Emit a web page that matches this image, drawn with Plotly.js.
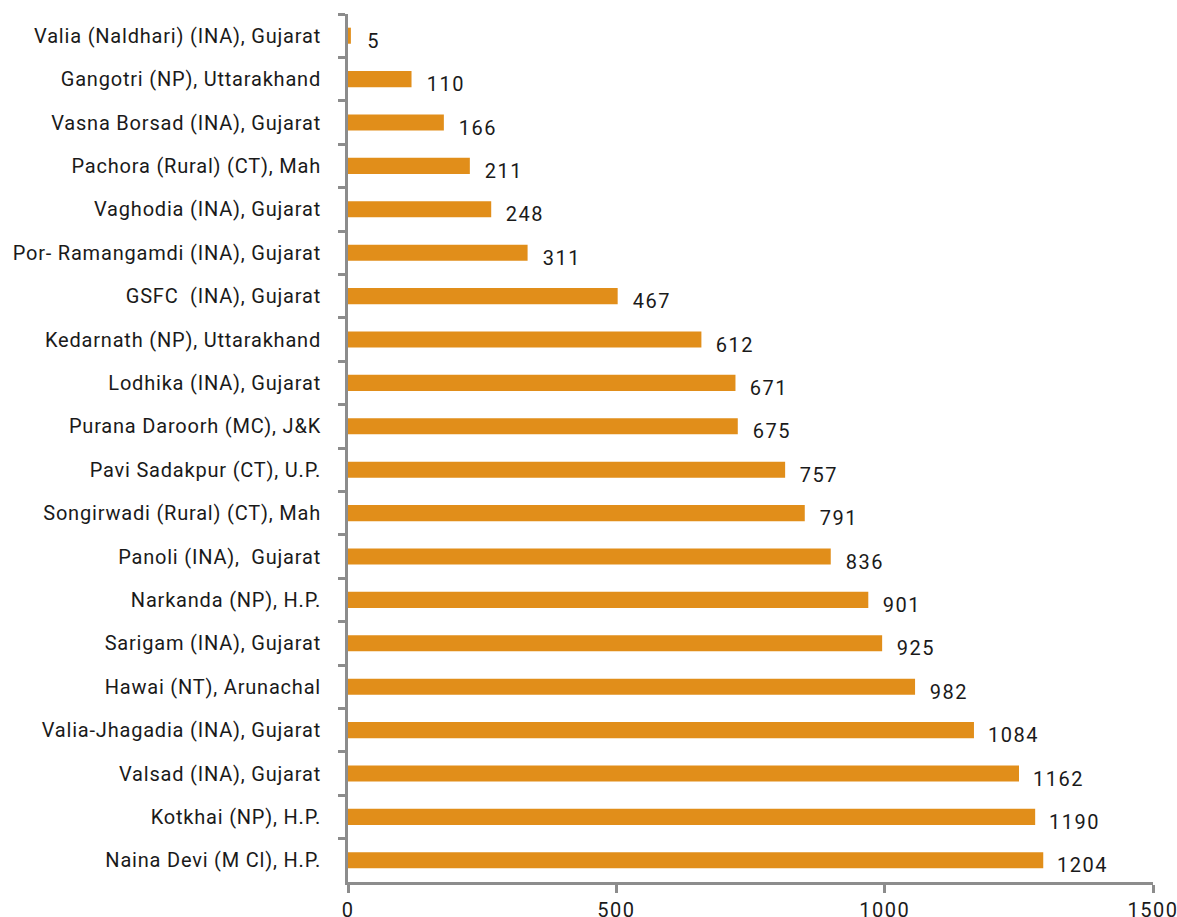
<!DOCTYPE html>
<html>
<head>
<meta charset="utf-8">
<script src="https://cdn.plot.ly/plotly-3.0.1.min.js"></script>
<style>
html,body{margin:0;padding:0;background:#fff;}
#chart{width:1177px;height:917px;}
#chart .ytick text{letter-spacing:0.8px;}
#chart .xtick text, #chart .annotation text{letter-spacing:1.5px;}
</style>
</head>
<body>
<div id="chart"></div>
<script>
const categories = [
  "Valia (Naldhari) (INA), Gujarat",
  "Gangotri (NP), Uttarakhand",
  "Vasna Borsad (INA), Gujarat",
  "Pachora (Rural) (CT), Mah",
  "Vaghodia (INA), Gujarat",
  "Por- Ramangamdi (INA), Gujarat",
  "GSFC  (INA), Gujarat",
  "Kedarnath (NP), Uttarakhand",
  "Lodhika (INA), Gujarat",
  "Purana Daroorh (MC), J&K",
  "Pavi Sadakpur (CT), U.P.",
  "Songirwadi (Rural) (CT), Mah",
  "Panoli (INA),  Gujarat",
  "Narkanda (NP), H.P.",
  "Sarigam (INA), Gujarat",
  "Hawai (NT), Arunachal",
  "Valia-Jhagadia (INA), Gujarat",
  "Valsad (INA), Gujarat",
  "Kotkhai (NP), H.P.",
  "Naina Devi (M Cl), H.P."
];
const values = [5, 110, 166, 211, 248, 311, 467, 612, 671, 675, 757, 791, 836, 901, 925, 982, 1084, 1162, 1190, 1204];
const tickLabels = ["0", "500", "1000", "1500"];
// The reference's axis labels are stretched relative to the bar values by ~1.076
const axisScale = 1.076;
const tickVals = tickLabels.map(t => Number(t) / axisScale);

const font = "Roboto, 'Noto Sans', sans-serif";
const trace = {
  type: "bar",
  orientation: "h",
  x: values,
  y: categories,
  marker: {color: "#E18E1A"},
  width: 0.37,
  hoverinfo: "x+y"
};
const annotations = values.map((v, i) => ({
  x: v, y: categories[i], xref: "x", yref: "y",
  text: String(v), showarrow: false, xanchor: "left", yanchor: "middle",
  xshift: 15, yshift: -5,
  font: {family: font, size: 20, color: "#1a1a1a"}
}));
const layout = {
  width: 1177, height: 917,
  margin: {l: 348, r: 24, t: 14, b: 35},
  paper_bgcolor: "#fff", plot_bgcolor: "#fff",
  showlegend: false,
  font: {family: font, size: 20, color: "#1a1a1a"},
  xaxis: {
    range: [0, 1500 / axisScale],
    tickvals: tickVals, ticktext: tickLabels,
    showgrid: false, zeroline: false,
    showline: true, linecolor: "#8c8c8c", linewidth: 3,
    ticks: "outside", ticklen: 8, tickwidth: 3, tickcolor: "#8c8c8c",
    tickfont: {family: font, size: 20, color: "#1a1a1a"}
  },
  yaxis: {
    type: "category",
    categoryorder: "array", categoryarray: categories,
    autorange: "reversed",
    showgrid: false, zeroline: false,
    showline: true, linecolor: "#8c8c8c", linewidth: 3,
    ticks: "outside", tickson: "boundaries", ticklen: 7, tickwidth: 3, tickcolor: "#8c8c8c",
    ticklabelstandoff: 20,
    tickfont: {family: font, size: 20, color: "#1a1a1a"}
  },
  annotations: annotations
};
Plotly.newPlot("chart", [trace], layout, {displayModeBar: false, responsive: false});
</script>
</body>
</html>
